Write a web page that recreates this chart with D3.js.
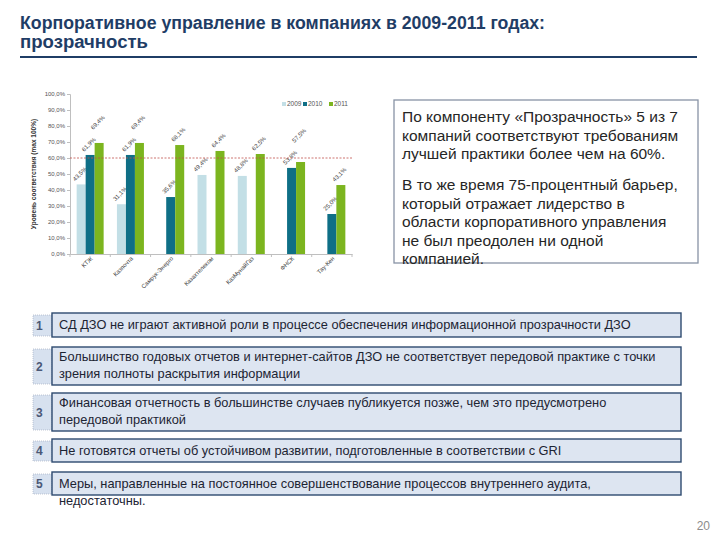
<!DOCTYPE html>
<html><head><meta charset="utf-8">
<script src="https://cdn.jsdelivr.net/npm/d3@7"></script>
<style>body{margin:0;background:#fff}svg{display:block}</style>
</head><body>
<script>
const categories = ["КТЖ","Казпочта","Самрук-Энерго","Казахтелеком","КазМунайГаз","ФНСК","Тау-Кен"];
const years = ["2009","2010","2011"];
const values2009 = [43.5, 31.1, null, 49.4, 48.8, null, null];
const values2010 = [61.9, 61.9, 35.6, null, null, 53.8, 25.0];
const values2011 = [69.4, 69.4, 68.1, 64.4, 62.5, 57.5, 43.1];
const yTicks = [0,10,20,30,40,50,60,70,80,90,100];
const threshold = 60;
const titleLines = ["Корпоративное управление в компаниях в 2009-2011 годах:","прозрачность"];
const noteParas = [
  ["По компоненту «Прозрачность» 5 из 7","компаний соответствуют требованиям","лучшей практики более чем на 60%."],
  ["В то же время 75-процентный барьер,","который отражает лидерство в","области корпоративного управления","не был преодолен ни одной","компанией."]
];
const itemNumbers = ["1","2","3","4","5"];
const itemTexts = [
  ["СД ДЗО не играют активной роли в процессе обеспечения информационной прозрачности ДЗО"],
  ["Большинство годовых отчетов и интернет-сайтов ДЗО не соответствует передовой практике с точки","зрения полноты раскрытия информации"],
  ["Финансовая отчетность в большинстве случаев публикуется позже, чем это предусмотрено","передовой практикой"],
  ["Не готовятся отчеты об устойчивом развитии, подготовленные в соответствии с GRI"],
  ["Меры, направленные на постоянное совершенствование процессов внутреннего аудита,","недостаточны."]
];
const pageNumber = "20";

const series = [values2009, values2010, values2011];
const colors = ["#c3dfe6","#0f6f86","#7cb51f"];

const svg = d3.select("body").append("svg").attr("width",720).attr("height",540);

// Title
const titleFont = "'Liberation Sans Narrow','Arial Narrow','Liberation Sans',sans-serif";
const titleWidths = [525, 128];
svg.selectAll("text.title").data(titleLines).enter().append("text")
  .attr("x",20).attr("y",(d,i)=>29+i*19)
  .attr("font-family",titleFont).attr("font-weight","bold").attr("font-size",18)
  .attr("textLength",(d,i)=>titleWidths[i]).attr("lengthAdjust","spacingAndGlyphs")
  .attr("fill","#1f3d66").text(d=>d);
svg.append("line").attr("x1",20).attr("x2",697).attr("y1",57).attr("y2",57)
  .attr("stroke","#1f3d66").attr("stroke-width",2);

// Chart
const x0 = d3.scaleBand().domain(categories).range([70,352]).paddingInner(0.33).paddingOuter(0.165);
const x1 = d3.scaleBand().domain(years).range([0,x0.bandwidth()]);
const y = d3.scaleLinear().domain([0,100]).range([254,94]);

const fontSmall = "'Liberation Sans',Arial,sans-serif";
const yAxis = svg.append("g").attr("transform","translate(70,0)")
  .call(d3.axisLeft(y).tickValues(yTicks).tickSize(3).tickFormat(d=>d3.format(".1f")(d).replace(".",",")+"%"));
yAxis.select(".domain").attr("stroke","#bfbfbf");
yAxis.selectAll(".tick line").attr("stroke","#bfbfbf");
yAxis.selectAll(".tick text").attr("font-size",6).attr("font-family",fontSmall).attr("fill","#555").attr("x",-5);

const xAxis = svg.append("g").attr("transform","translate(0,254)")
  .call(d3.axisBottom(x0).tickSize(0).tickFormat(""));
xAxis.select(".domain").attr("stroke","#bfbfbf");
const step = x0.step();
const bounds = d3.range(categories.length+1).map(i=>70+i*step);
svg.selectAll("line.btick").data(bounds).enter().append("line")
  .attr("x1",d=>d).attr("x2",d=>d).attr("y1",254).attr("y2",257).attr("stroke","#bfbfbf");

svg.selectAll("text.cat").data(categories).enter().append("text")
  .attr("transform",d=>`translate(${x0(d)+x0.bandwidth()/2+3},259) rotate(-45)`)
  .attr("text-anchor","end").attr("font-size",6).attr("font-family",fontSmall).attr("fill","#404040").text(d=>d);

svg.append("text").attr("transform","translate(36,174) rotate(-90)")
  .attr("text-anchor","middle").attr("font-size",6.5).attr("font-weight","bold")
  .attr("font-family",fontSmall).attr("fill","#333").text("Уровень соответствия (max 100%)");

// bars
const fmt = v => d3.format(".1f")(v).replace(".",",")+"%";
const labelPos = {};
series.forEach((vals,si)=>{
  const g = svg.append("g");
  vals.forEach((v,ci)=>{
    if(v==null) return;
    const cx = x0(categories[ci]) + x1(years[si]);
    g.append("rect").attr("x",cx).attr("y",y(v)).attr("width",x1.bandwidth()).attr("height",254-y(v)).attr("fill",colors[si]);
    let ly = y(v)-3;
    const prev = labelPos[ci];
    if(prev!=null && prev-ly < 22 && prev - ly > -30) ly = Math.min(ly, prev-22);
    labelPos[ci] = ly;
    svg.append("text").attr("transform",`translate(${cx+x1.bandwidth()/2-6},${ly}) rotate(-45)`)
      .attr("font-size",6).attr("font-family",fontSmall).attr("fill","#404040").text(fmt(v));
  });
});

svg.append("line").attr("x1",70).attr("x2",352).attr("y1",y(threshold)).attr("y2",y(threshold))
  .attr("stroke","#c0504d").attr("stroke-width",0.8).attr("stroke-dasharray","2,1.5");

// legend
const legX = [282,303,329];
years.forEach((yr,i)=>{
  svg.append("rect").attr("x",legX[i]).attr("y",102).attr("width",4).attr("height",4).attr("fill",colors[i]);
  svg.append("text").attr("x",legX[i]+5).attr("y",106.3).attr("font-size",6.5).attr("font-family",fontSmall).attr("fill","#555").text(yr);
});

// note box
svg.append("rect").attr("x",394).attr("y",100).attr("width",304).attr("height",163)
  .attr("fill","#fff").attr("stroke","#8893a5").attr("stroke-width",1.3);
let ny = 122;
noteParas.forEach((p,pi)=>{
  p.forEach((line,li)=>{
    svg.append("text").attr("x",402).attr("y",ny).attr("font-size",15.5)
      .attr("font-family","'Liberation Sans',Arial,sans-serif").attr("fill","#262626").text(line);
    ny += 18.5;
  });
  ny += 12.5;
});

// items
const itemBoxes = [[313,337],[347,385],[393,431],[439,462],[472,495]];
itemTexts.forEach((lines,i)=>{
  const [t,b] = itemBoxes[i];
  svg.append("rect").attr("x",33).attr("y",t+2).attr("width",19).attr("height",b-t-3)
    .attr("fill","#d7e1ef").attr("stroke","#9aa6bb").attr("stroke-width",0.6).attr("stroke-dasharray","1,1");
  svg.append("text").attr("x",36).attr("y",(t+b)/2+4.5).attr("font-size",12).attr("font-weight","bold")
    .attr("font-family","'Liberation Sans',Arial,sans-serif").attr("fill","#4a5876").text(itemNumbers[i]);
  svg.append("rect").attr("x",52).attr("y",t).attr("width",629).attr("height",b-t)
    .attr("fill","#dde5f1").attr("stroke","#2e4a6f").attr("stroke-width",1.4);
  lines.forEach((line,li)=>{
    svg.append("text").attr("x",59).attr("y",t+ (lines.length===1 || i===4 ? 16 : 13.5) + li*17)
      .attr("font-size",12.8).attr("font-family","'Liberation Sans',Arial,sans-serif").attr("fill","#1c2433").text(line);
  });
});

svg.append("text").attr("x",710).attr("y",530).attr("text-anchor","end").attr("font-size",12)
  .attr("font-family","'Liberation Sans',Arial,sans-serif").attr("fill","#8c8c8c").text(pageNumber);
</script>
</body></html>
